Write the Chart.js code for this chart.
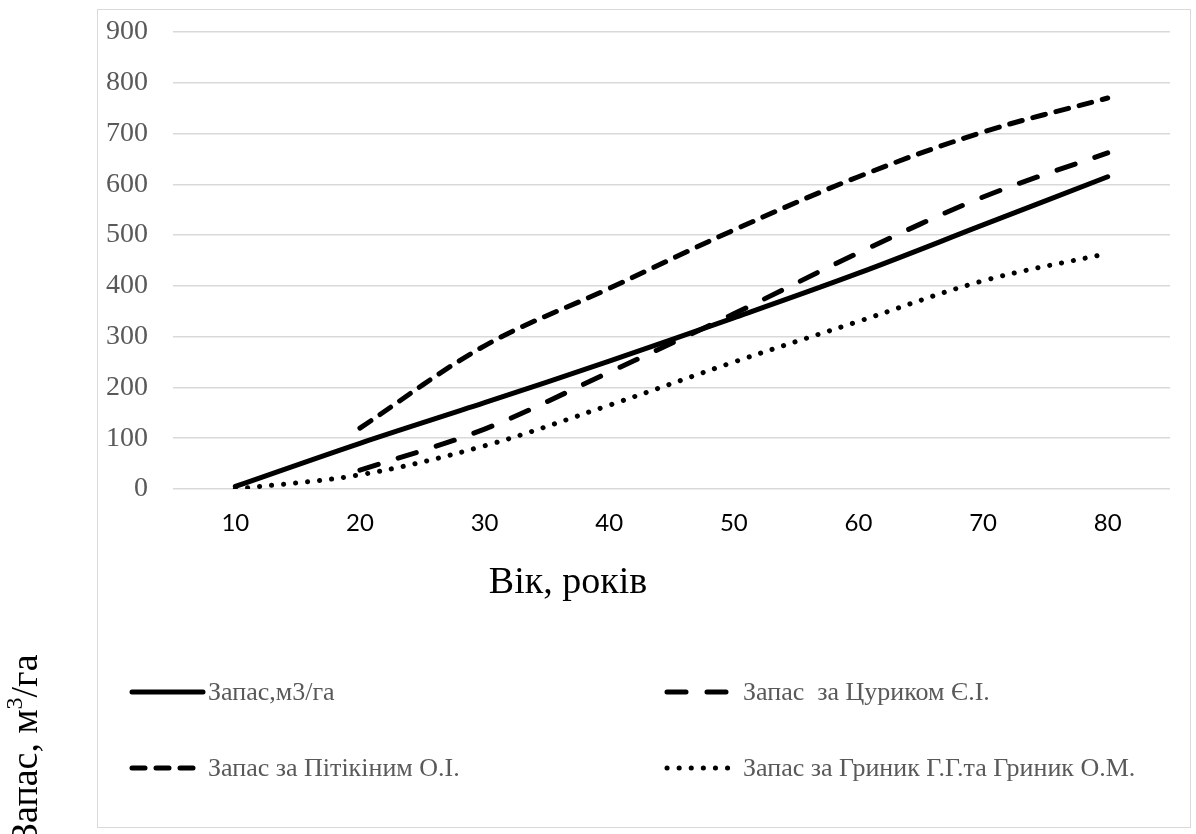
<!DOCTYPE html>
<html>
<head>
<meta charset="utf-8">
<script src="https://cdn.jsdelivr.net/npm/chart.js@4/dist/chart.umd.min.js"></script>
<style>
  html, body { margin: 0; padding: 0; background: #fff; }
  #wrap { position: absolute; left: 0; top: 0; width: 1196px; height: 834px; }
</style>
</head>
<body>
<div id="wrap"><canvas id="c" width="1196" height="834"></canvas></div>
<script>
// ---- data ----
const ages = ['10', '20', '30', '40', '50', '60', '70', '80'];
const zapas   = [5, 90, 170, 252, 337, 425, 520, 615];
const tsuryk  = [null, 37, 118, 230, 345, 465, 575, 662];
const pitikin = [null, 120, 282, 395, 510, 615, 703, 770];
const grynyk  = [0, 28, 85, 165, 250, 330, 410, 464];
const seriesNames = [
  'Запас,м3/га',
  'Запас  за Цуриком Є.І.',
  'Запас за Пітікіним О.І.',
  'Запас за Гриник Г.Г.та Гриник О.М.'
];
const yTicks = [0, 100, 200, 300, 400, 500, 600, 700, 800, 900];
const xTitle = 'Вік, років';
const yTitle = ['Запас, м', '3', '/га'];

const SERIF = '"Liberation Serif", "Times New Roman", serif';

const decor = {
  id: 'decor',
  beforeDraw(chart) {
    const ctx = chart.ctx;
    ctx.save();
    ctx.fillStyle = '#fff';
    ctx.fillRect(0, 0, chart.width, chart.height);
    ctx.strokeStyle = '#d9d9d9';
    ctx.lineWidth = 1;
    ctx.strokeRect(97.5, 9.5, 1093, 818);
    ctx.restore();
  },
  afterDraw(chart) {
    const ctx = chart.ctx;
    ctx.save();
    // x axis title
    ctx.fillStyle = '#000';
    ctx.font = '38px ' + SERIF;
    ctx.textAlign = 'center';
    ctx.textBaseline = 'alphabetic';
    ctx.fillText(xTitle, 568, 593);
    // y axis title (rotated, outside the box)
    ctx.save();
    ctx.translate(37, 842);
    ctx.rotate(-Math.PI / 2);
    ctx.textAlign = 'left';
    ctx.font = '38px ' + SERIF;
    let x = 0;
    ctx.fillText(yTitle[0], x, 0);
    x += ctx.measureText(yTitle[0]).width;
    ctx.font = '24px ' + SERIF;
    ctx.fillText(yTitle[1], x, -15);
    x += ctx.measureText(yTitle[1]).width;
    ctx.font = '38px ' + SERIF;
    ctx.fillText(yTitle[2], x, 0);
    ctx.restore();
    // legend
    const pos = [[130, 692], [665, 692], [130, 768], [665, 768]];
    chart.data.datasets.forEach((ds, i) => {
      const [lx, ly] = pos[i];
      ctx.save();
      ctx.strokeStyle = ds.borderColor;
      ctx.lineWidth = ds.borderWidth;
      ctx.lineCap = ds.borderCapStyle || 'butt';
      ctx.setLineDash(ds.borderDash || []);
      ctx.beginPath();
      ctx.moveTo(lx + 2, ly);
      ctx.lineTo(lx + 73, ly);
      ctx.stroke();
      ctx.restore();
      ctx.fillStyle = '#595959';
      ctx.font = '26px ' + SERIF;
      ctx.textAlign = 'left';
      ctx.textBaseline = 'middle';
      ctx.fillText(ds.label, lx + 78, ly + 1);
    });
    ctx.restore();
  }
};

const mk = (label, data, dash, width) => ({
  label, data,
  borderColor: '#000',
  backgroundColor: '#000',
  borderWidth: width,
  borderDash: dash,
  borderCapStyle: 'round',
  borderJoinStyle: 'round',
  pointRadius: 0,
  pointHoverRadius: 0,
  tension: 0.35,
  fill: false,
  spanGaps: false
});

new Chart(document.getElementById('c'), {
  type: 'line',
  data: {
    labels: ages,
    datasets: [
      mk(seriesNames[0], zapas, [], 5),
      mk(seriesNames[1], tsuryk, [19, 21], 5),
      mk(seriesNames[2], pitikin, [13, 11], 5),
      mk(seriesNames[3], grynyk, [0.1, 12], 5)
    ]
  },
  options: {
    responsive: false,
    animation: false,
    devicePixelRatio: 1,
    layout: { padding: { top: 32, right: 26, bottom: 0, left: 0 } },
    plugins: { legend: { display: false }, tooltip: { enabled: false } },
    scales: {
      x: {
        offset: true,
        grid: { display: false },
        border: { display: false },
        ticks: { color: '#000', font: { family: 'Lato', size: 24 }, padding: 12, maxRotation: 0 },
        afterFit: (s) => { s.height = 345; }
      },
      y: {
        min: 0, max: 900,
        afterBuildTicks: (s) => { s.ticks = yTicks.map(v => ({ value: v })); },
        grid: { color: '#d9d9d9', lineWidth: 1.5, drawTicks: false },
        border: { display: false },
        ticks: { color: '#595959', font: { family: 'Liberation Serif', size: 28 }, padding: 25 },
        afterFit: (s) => { s.width = 173; s.paddingTop = 0; s.paddingBottom = 0; }
      }
    }
  },
  plugins: [decor]
});
</script>
</body>
</html>
